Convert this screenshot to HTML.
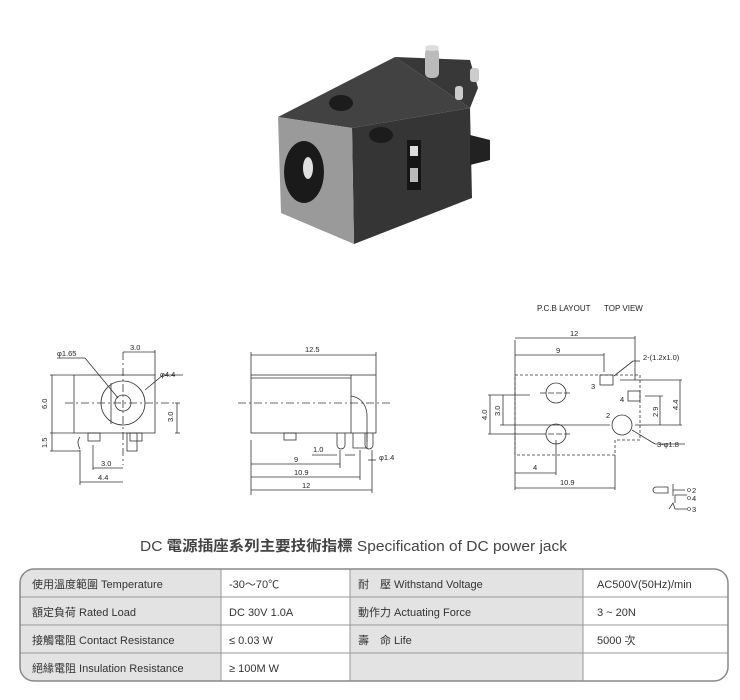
<!DOCTYPE html>
<html><head><meta charset="utf-8"><style>
body{margin:0;background:#fff;width:740px;height:700px;overflow:hidden;position:relative;font-family:"Liberation Sans","Noto Sans CJK TC",sans-serif}
svg{position:absolute;left:0;top:0}
</style></head><body>
<svg width="740" height="700" viewBox="0 0 740 700" font-family="Liberation Sans, Noto Sans CJK TC, sans-serif">
<!-- photo -->
<g>
<polygon points="352,128 470,108 472,198 354,244" fill="#353535"/>
<polygon points="470,135 490,140 490,160 470,165" fill="#222"/>
<polygon points="278,117 395,57 470,108 352,128" fill="#424242"/>
<polygon points="395,57 470,60 478,88 470,108" fill="#383838"/>
<polygon points="278,117 352,128 354,244 281,213" fill="#9a9a9a"/>
<ellipse cx="304" cy="172" rx="20" ry="31" fill="#1a1a1a"/>
<ellipse cx="308" cy="168" rx="5" ry="11" fill="#e0e0e0"/>
<ellipse cx="341" cy="103" rx="12" ry="8" fill="#1c1c1c"/>
<ellipse cx="381" cy="135" rx="12" ry="8" fill="#1c1c1c"/>
<rect x="425" y="48" width="14" height="30" rx="5" fill="#bbb"/>
<ellipse cx="432" cy="48" rx="7" ry="3" fill="#ddd"/>
<rect x="455" y="86" width="8" height="14" rx="3" fill="#ccc"/>
<rect x="470" y="68" width="9" height="14" rx="3" fill="#ccc"/>
<rect x="407" y="140" width="14" height="50" fill="#151515"/>
<rect x="410" y="146" width="8" height="10" fill="#ddd"/>
<rect x="410" y="168" width="8" height="14" fill="#bbb"/>
</g>
<g font-size="8" fill="#222">
<text x="537" y="311">P.C.B LAYOUT</text><text x="604" y="311">TOP VIEW</text>
</g>
<g stroke="#333" fill="none" stroke-width="0.8">
<rect x="74" y="375" width="81" height="58"/>
<circle cx="123" cy="403" r="22"/>
<circle cx="123" cy="403" r="8"/>
<line x1="111" y1="383" x2="111" y2="424"/>
<line x1="65" y1="403" x2="175" y2="403" stroke-dasharray="8,3,2,3"/>
<line x1="123" y1="352" x2="123" y2="465" stroke-dasharray="8,3,2,3"/>
<rect x="88" y="433" width="12" height="8"/><rect x="127" y="433" width="10" height="18"/><rect x="130" y="433" width="12" height="8"/>
<path d="M80 437 q-4 5 0 12"/>
<line x1="50" y1="375" x2="74" y2="375"/><line x1="50" y1="433" x2="74" y2="433"/><line x1="50" y1="451" x2="80" y2="451"/>
<line x1="52" y1="375" x2="52" y2="451"/>
<line x1="123" y1="352" x2="155" y2="352"/><line x1="155" y1="350" x2="155" y2="375"/>
<line x1="175" y1="403" x2="180" y2="403"/><line x1="175" y1="433" x2="180" y2="433"/><line x1="177" y1="403" x2="177" y2="433"/>
<line x1="93" y1="445" x2="93" y2="470"/><line x1="80" y1="450" x2="80" y2="485"/>
<line x1="93" y1="468" x2="123" y2="468"/><line x1="80" y1="482" x2="123" y2="482"/>
<line x1="57" y1="358" x2="85" y2="358"/><line x1="85" y1="358" x2="118" y2="398"/>
<line x1="145" y1="390" x2="163" y2="375"/><line x1="163" y1="375" x2="183" y2="375"/>
<rect x="251" y="375" width="125" height="58"/>
<line x1="351" y1="375" x2="351" y2="433"/>
<line x1="251" y1="378" x2="351" y2="378"/>
<path d="M351 396 q14 2 16 18 v28"/>
<line x1="238" y1="403" x2="392" y2="403" stroke-dasharray="8,3,2,3"/>
<rect x="284" y="433" width="12" height="7"/>
<path d="M337 433 v12 a4 4 0 0 0 8 0 v-12"/><path d="M353 433 v15 h14 v-15"/><path d="M365 433 v12 a4 4 0 0 0 8 0 v-12"/>
<line x1="251" y1="352" x2="251" y2="375"/><line x1="376" y1="352" x2="376" y2="375"/>
<line x1="251" y1="355" x2="376" y2="355"/>
<line x1="251" y1="440" x2="251" y2="495"/>
<line x1="251" y1="464" x2="340" y2="464"/><line x1="251" y1="477" x2="360" y2="477"/><line x1="251" y1="490" x2="372" y2="490"/>
<line x1="340" y1="450" x2="340" y2="468"/><line x1="360" y1="450" x2="360" y2="480"/><line x1="372" y1="450" x2="372" y2="493"/>
<line x1="312" y1="455" x2="337" y2="455"/><line x1="345" y1="455" x2="355" y2="455"/>
<line x1="368" y1="460" x2="376" y2="460"/>
<path d="M515 375 H640 V440 H615 V455 H515 Z" stroke-dasharray="3,2"/>
<circle cx="556" cy="393" r="10"/><circle cx="556" cy="434" r="10"/><circle cx="622" cy="425" r="10"/>
<rect x="600" y="375" width="13" height="10"/><rect x="628" y="391" width="12" height="10"/>
<line x1="540" y1="393" x2="572" y2="393" stroke-dasharray="6,2"/><line x1="540" y1="434" x2="572" y2="434" stroke-dasharray="6,2"/>
<line x1="515" y1="340" x2="515" y2="490"/>
<line x1="515" y1="338" x2="635" y2="338"/><line x1="635" y1="336" x2="635" y2="380"/>
<line x1="515" y1="355" x2="604" y2="355"/><line x1="604" y1="353" x2="604" y2="372"/>
<line x1="488" y1="395" x2="530" y2="395"/><line x1="488" y1="434" x2="540" y2="434"/><line x1="500" y1="425" x2="610" y2="425"/>
<line x1="490" y1="395" x2="490" y2="434"/><line x1="503" y1="395" x2="503" y2="425"/>
<line x1="620" y1="380" x2="682" y2="380"/><line x1="645" y1="396" x2="663" y2="396"/>
<line x1="660" y1="396" x2="660" y2="425"/><line x1="680" y1="380" x2="680" y2="425"/><line x1="635" y1="425" x2="682" y2="425"/>
<line x1="556" y1="440" x2="556" y2="475"/><line x1="515" y1="473" x2="556" y2="473"/>
<line x1="615" y1="455" x2="615" y2="490"/><line x1="515" y1="488" x2="615" y2="488"/>
<line x1="614" y1="376" x2="633" y2="361"/><line x1="633" y1="361" x2="640" y2="361"/>
<line x1="632" y1="430" x2="655" y2="444"/><line x1="655" y1="444" x2="685" y2="444"/>
<path d="M668 487 h-12 a3 3 0 0 0 0 6 h12 v-6 m5 -3 v12 m0 -6 h12"/>
<path d="M669 509 l4 -6 l2 6 h12 m-12 -6 v-8 h12"/>
</g>
<g fill="none" stroke="#333" stroke-width="0.6"><circle cx="689" cy="490" r="1.5"/><circle cx="689" cy="498" r="1.5"/><circle cx="689" cy="509" r="1.5"/></g>
<g font-size="7.5" fill="#222">
<text x="57" y="356">φ1.65</text><text x="130" y="350">3.0</text><text x="160" y="377">φ4.4</text>
<text x="47" y="409" transform="rotate(-90 47 409)">6.0</text>
<text x="47" y="448" transform="rotate(-90 47 448)">1.5</text>
<text x="173" y="422" transform="rotate(-90 173 422)">3.0</text>
<text x="101" y="466">3.0</text><text x="98" y="480">4.4</text>
<text x="305" y="352">12.5</text><text x="313" y="452">1.0</text><text x="294" y="462">9</text>
<text x="294" y="475">10.9</text><text x="302" y="488">12</text><text x="379" y="460">φ1.4</text>
<text x="570" y="336">12</text><text x="556" y="353">9</text><text x="643" y="360">2-(1.2x1.0)</text>
<text x="591" y="389">3</text><text x="620" y="402">4</text><text x="606" y="418">2</text>
<text x="487" y="420" transform="rotate(-90 487 420)">4.0</text>
<text x="500" y="416" transform="rotate(-90 500 416)">3.0</text>
<text x="658" y="417" transform="rotate(-90 658 417)">2.9</text>
<text x="678" y="410" transform="rotate(-90 678 410)">4.4</text>
<text x="657" y="447">3-φ1.8</text><text x="533" y="470">4</text><text x="560" y="485">10.9</text>
<text x="692" y="493">2</text><text x="692" y="501">4</text><text x="692" y="512">3</text>
</g>
<text x="140" y="551" font-size="14.5" fill="#444" textLength="427" lengthAdjust="spacingAndGlyphs">DC <tspan font-weight="bold">電源插座系列主要技術指標</tspan> Specification of DC power jack</text>
<defs><clipPath id="c"><rect x="20" y="569" width="708" height="112" rx="14"/></clipPath></defs>
<g clip-path="url(#c)">
<rect x="20" y="569" width="708" height="112" fill="#fff"/>
<rect x="20" y="569" width="201" height="112" fill="#e3e3e3"/>
<rect x="350" y="569" width="233" height="112" fill="#e3e3e3"/>
<g stroke="#999" stroke-width="1"><line x1="20" y1="597" x2="728" y2="597"/><line x1="20" y1="625" x2="728" y2="625"/><line x1="20" y1="653" x2="728" y2="653"/>
<line x1="221" y1="569" x2="221" y2="681"/><line x1="350" y1="569" x2="350" y2="681"/><line x1="583" y1="569" x2="583" y2="681"/></g>
</g>
<rect x="20" y="569" width="708" height="112" rx="14" fill="none" stroke="#888" stroke-width="1.5"/>
<g font-size="11" fill="#333">
<text x="32" y="588">使用溫度範圍 Temperature</text><text x="229" y="588">-30～70℃</text><text x="358" y="588">耐　壓  Withstand Voltage</text><text x="597" y="588">AC500V(50Hz)/min</text>
<text x="32" y="616">額定負荷  Rated Load</text><text x="229" y="616">DC  30V  1.0A</text><text x="358" y="616">動作力  Actuating Force</text><text x="597" y="616">3 ~ 20N</text>
<text x="32" y="644">接觸電阻  Contact Resistance</text><text x="229" y="644">≤ 0.03 W</text><text x="358" y="644">壽　命  Life</text><text x="597" y="644">5000 次</text>
<text x="32" y="672">絕緣電阻  Insulation Resistance</text><text x="229" y="672">≥ 100M W</text>
</g>
</svg>
</body></html>
